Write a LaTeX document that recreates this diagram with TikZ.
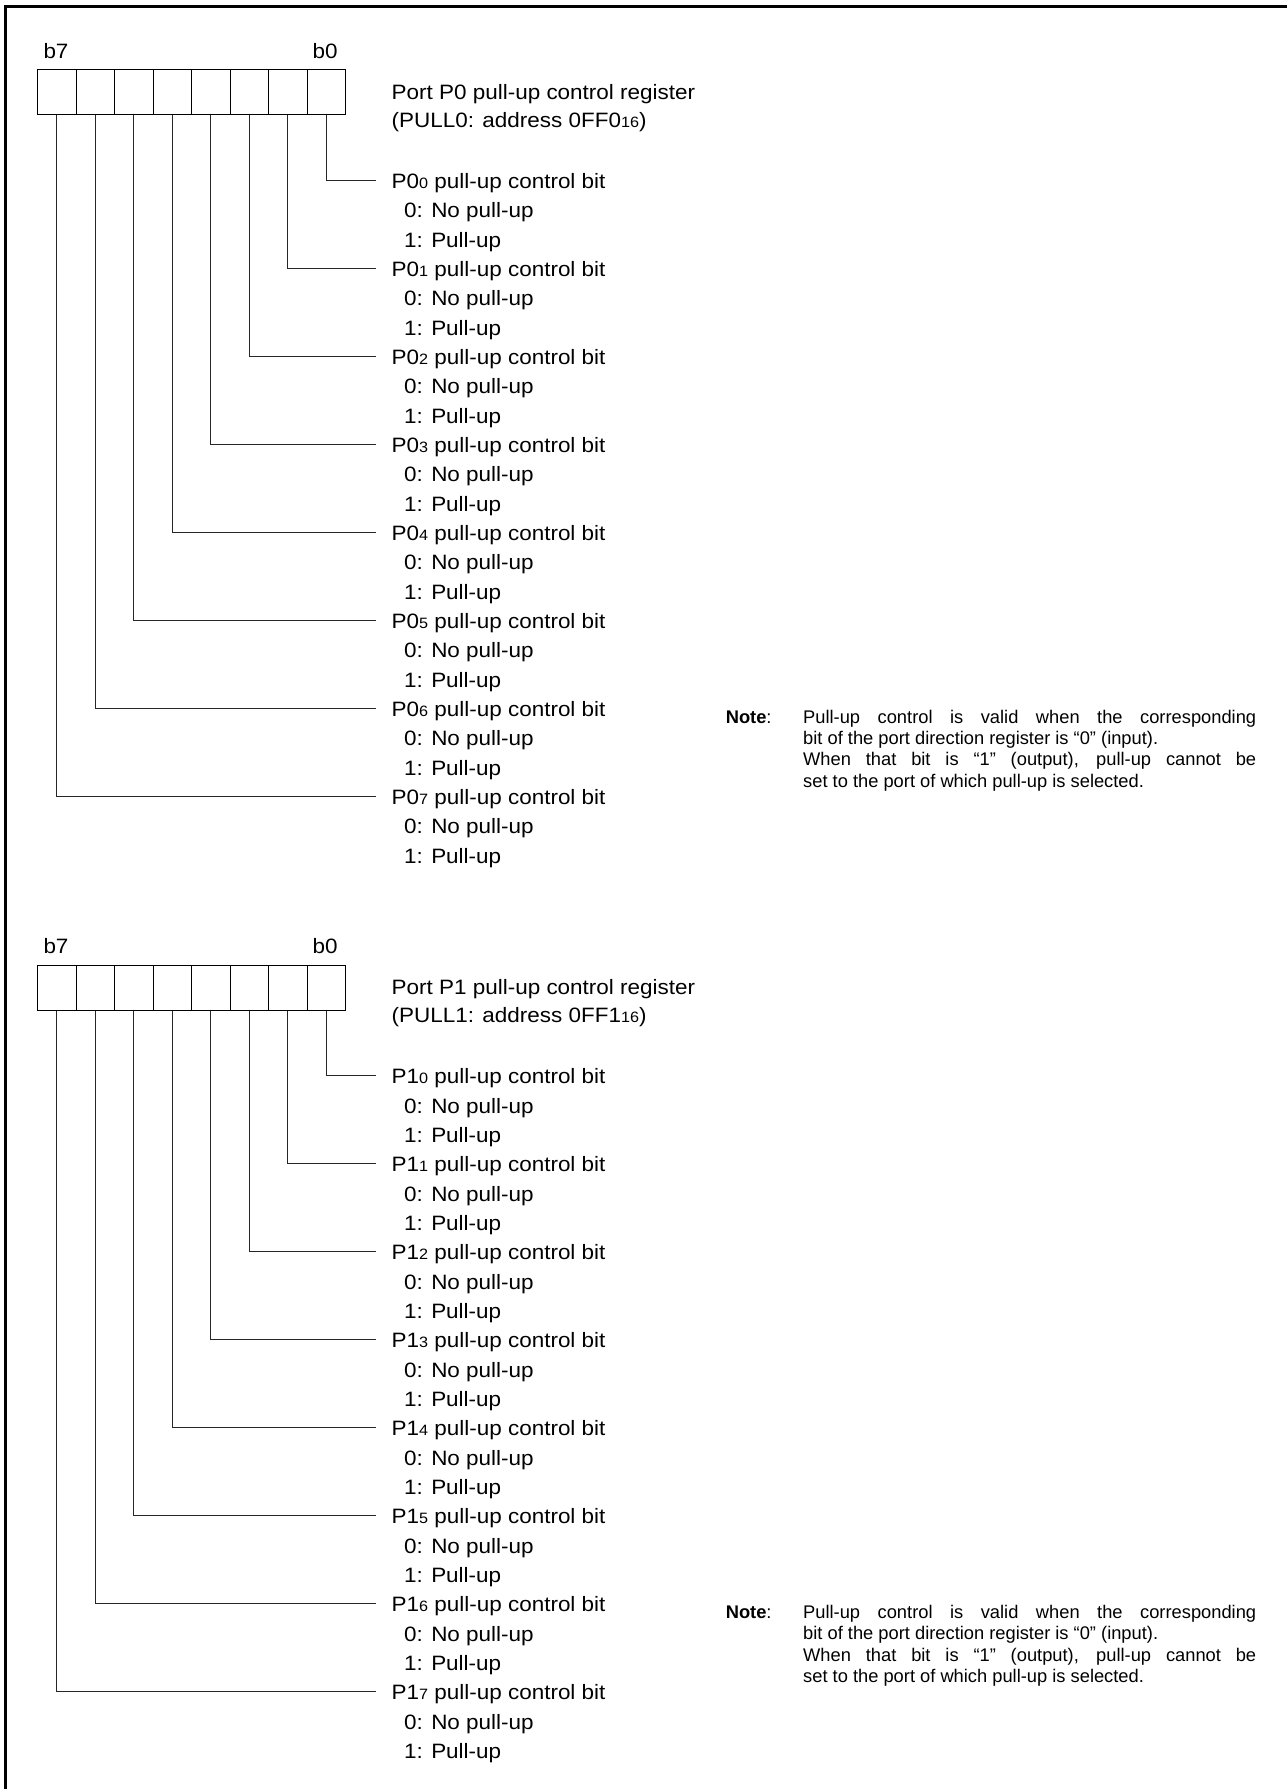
\documentclass[tikz,border=0pt]{standalone}
\usepackage{fontspec}
\setmainfont{Liberation Sans}
\newfontfamily\lblfont[FakeStretch=1.08]{Liberation Sans}
\newcommand\lblsize{\lblfont\fontsize{20.8}{24}\selectfont}
\newcommand\subsz[1]{{\lblfont\fontsize{15}{16}\selectfont #1}}
\newcommand\notesize{\fontsize{18.3}{21.3}\selectfont}
\begin{document}
\begin{tikzpicture}[x=1pt,y=-1pt,
  cell/.style={draw, line width=1pt, minimum width=38.5pt, minimum height=45.3pt, inner sep=0pt, anchor=north west},
  wire/.style={line width=1pt, black!85},
  frame/.style={line width=3pt, line join=miter},
  lbl/.style={anchor=base west, inner sep=0pt, font=\lblsize},
  note/.style={anchor=base west, inner sep=0pt, font=\notesize}]
\useasboundingbox (0,0) rectangle (1287,1789);
\draw[frame] (5.5,1789) -- (5.5,6.5) -- (1287,6.5);
\foreach \rg in {0,1}{
  \pgfmathsetmacro\dy{895.5*\rg}
  \node[lbl] (b7-\rg) at (43.3,{58.3+\dy}) {b7};
  \node[lbl] (b0-\rg) at (312.5,{58.3+\dy}) {b0};
  \foreach \i in {0,...,7}{
    \node[cell] (c\rg-\i) at ({37+38.5*(7-\i)},{69+\dy}) {};
  }
  \node[lbl] (t-\rg) at (391.5,{99+\dy}) {Port P\rg{} pull-up control register};
  \node[lbl] (a-\rg) at (391.5,{127+\dy}) {(PULL\rg: address 0FF\rg\subsz{16})};
  \foreach \i in {0,...,7}{
    \coordinate (e\rg-\i) at (376,{180+88*\i+\dy});
    \draw[wire] (c\rg-\i.south) |- (e\rg-\i);
    \node[lbl] (p\rg-\i) at (391.5,{188+88*\i+\dy}) {P\rg\subsz{\i} pull-up control bit};
    \node[lbl] (n\rg-\i) at (404,{217.5+88*\i+\dy}) {0: No pull-up};
    \node[lbl] (u\rg-\i) at (404,{247+88*\i+\dy}) {1: Pull-up};
  }
  \node[note] (nl-\rg) at (725.6,{723+\dy}) {\textbf{Note}:};
  \node[note] (na-\rg) at (803,{723+\dy}) {\hbox to 453pt{Pull-up control is valid when the corresponding}};
  \node[note] (nb-\rg) at (803,{744.3+\dy}) {bit of the port direction register is “0” (input).};
  \node[note] (nc-\rg) at (803,{765.6+\dy}) {\hbox to 453pt{When that bit is “1” (output), pull-up cannot be}};
  \node[note] (nd-\rg) at (803,{787+\dy}) {set to the port of which pull-up is selected.};
}
\end{tikzpicture}
\end{document}
